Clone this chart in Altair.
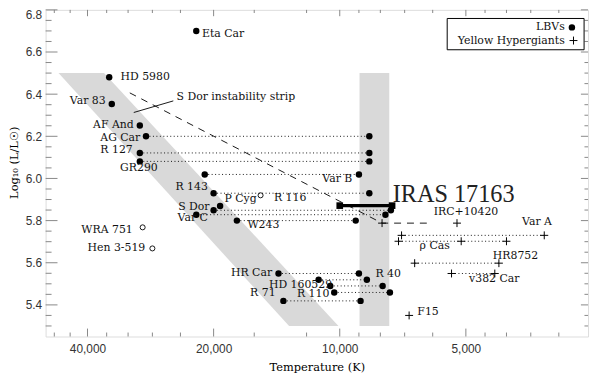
import altair as alt
import pandas as pd

# ---------------- data ----------------
lbv_names = ["Eta Car", "HD 5980", "Var 83", "AF And", "AG Car", "R 127", "GR290",
             "Var B", "R 143", "P Cyg", "S Dor", "Var C", "W243", "HR Car",
             "R 40", "HD 160529", "R 110", "R 71"]
lbv_hot_T = [22000, 35500, 35000, 30000, 29000, 30000, 30000,
             21000, 20000, 19300, 20000, 22000, 17600, 14000,
             11230, 10535, 10307, 13630]
lbv_cool_T = [None, None, None, None, 8500, 8500, 8500,
              9000, 8500, None, 7550, 7780, 9160, 9000,
              8615, 7900, 7590, 8920]
lbv_logL = [6.70, 6.48, 6.353, 6.251, 6.200, 6.121, 6.081,
            6.019, 5.930, 5.869, 5.849, 5.828, 5.800, 5.549,
            5.519, 5.490, 5.459, 5.419]

cand_names = ["R 116", "WRA 751", "Hen 3-519"]
cand_T = [15450, 29540, 28000]
cand_logL = [5.920, 5.768, 5.668]

yhg_names = ["IRC+10420", "Var A", "rho Cas", "HR8752", "v382 Car", "F15"]
yhg_T = [[7925, 5250], [7120, 3250], [7240, 5130, 4000], [6625, 4170], [5410, 4265], [6830]]
yhg_logL = [5.788, 5.730, 5.702, 5.598, 5.549, 5.350]
yhg_dotted = [False, True, True, True, True, False]

iras_T = [10000, 7500]
iras_logL = [5.871, 5.871]

track_T = [31700, 7925, 6040]
track_logL = [6.406, 5.788, 5.788]

strip_logL = [6.5, 5.3]
strip_hot_T = [46900, 13210]
strip_cool_T = [36530, 10070]

band_T = [8970, 7617]
band_logL = [5.3, 6.5]

pointer_T = [31020, 24960]
pointer_logL = [6.313, 6.368]

labL_text = ["Eta Car", "HD 5980", "S Dor instability strip", "P Cyg", "R 116", "W243",
             "HD 160529", "R 110", "R 40", "IRC+10420", "\u03c1 Cas", "HR8752", "v382 Car", "F15"]
labL_T = [21320, 33360, 24520, 18840, 14360, 16610, 14760, 12650, 8220, 5965, 6447, 4311, 4913, 6528]
labL_L = [6.687, 6.480, 6.387, 5.901, 5.906, 5.779, 5.493, 5.450, 5.545, 5.842, 5.680, 5.633, 5.522, 5.366]

labR_text = ["Var 83", "AF And", "AG Car", "R 127", "Var B", "R 143", "S Dor", "Var C",
             "WRA 751", "Hen 3-519", "HR Car", "R 71", "Var A"]
labR_T = [36190, 31020, 29920, 31190, 9333, 20640, 20450, 20640, 31190, 29120, 14500, 14230, 3116]
labR_L = [6.367, 6.255, 6.194, 6.136, 5.995, 5.958, 5.865, 5.810, 5.753, 5.668, 5.552, 5.454, 5.791]

labC_text = ["GR290"]
labC_T = [30150]
labC_L = [6.051]

iras_label = "IRAS 17163"
iras_label_T = 7477
iras_label_L = 5.886

legend_text = ["LBVs", "Yellow Hypergiants"]

x_major = [40000, 20000, 10000, 5000]
x_minor = [48000, 44000, 36000, 32000, 28000, 24000, 16000, 12000,
           9000, 8000, 7000, 6000, 4500, 4000, 3500, 3000]
y_major = [5.4, 5.6, 5.8, 6.0, 6.2, 6.4, 6.6, 6.8]
y_minor = [5.30, 5.35, 5.45, 5.50, 5.55, 5.65, 5.70, 5.75, 5.85, 5.90, 5.95,
           6.05, 6.10, 6.15, 6.25, 6.30, 6.35, 6.45, 6.50, 6.55, 6.65, 6.70, 6.75]

# ---------------- build ----------------
W, H = 548, 330
xs = alt.Scale(type="log", domain=[50350, 2555], nice=False)
ys = alt.Scale(domain=[5.25, 6.8], nice=False, zero=False)
SERIF = "DejaVu Serif"
FS = 11
FRAME = "#888"

XAXIS = alt.Axis(
    values=x_major, format=",", ticks=False, domain=False, grid=False,
    labelFont="Liberation Sans", labelFontSize=12, labelColor="#333", labelPadding=7,
    title="Temperature (K)", titleFont=SERIF, titleFontSize=11.5,
    titleFontWeight="normal", titleColor="black", titlePadding=7)
YAXIS = alt.Axis(
    values=y_major, format=".1f", ticks=False, domain=False, grid=False,
    labelFont="Liberation Sans", labelFontSize=12, labelColor="#333", labelPadding=4,
    labelFlush=True,
    title="Log\u2081\u2080 (L/L\u2609)", titleFont=SERIF, titleFontSize=11.5,
    titleFontWeight="normal", titleColor="black", titleAngle=270,
    titleX=-31, titleY=154, titleAlign="center", titleBaseline="middle")

hot_df = pd.DataFrame({"name": lbv_names, "T": lbv_hot_T, "L": lbv_logL})
cool_df = pd.DataFrame({"name": lbv_names, "T": lbv_cool_T, "L": lbv_logL}).dropna()
pair_df = pd.DataFrame({"T1": lbv_hot_T, "T2": lbv_cool_T, "L": lbv_logL}).dropna()
cand_df = pd.DataFrame({"name": cand_names, "T": cand_T, "L": cand_logL})

yrows, yseg = [], []
for n, ts, l, d in zip(yhg_names, yhg_T, yhg_logL, yhg_dotted):
    for t in ts:
        yrows.append({"name": n, "T": t, "L": l})
    if d:
        yseg.append({"T1": max(ts), "T2": min(ts), "L": l})
yhg_df = pd.DataFrame(yrows)
seg_df = pd.concat([pair_df, pd.DataFrame(yseg)], ignore_index=True)

track_df = pd.DataFrame({"T": track_T, "L": track_logL, "i": list(range(len(track_T)))})
pointer_df = pd.DataFrame({"T": pointer_T, "L": pointer_logL, "i": [0, 1]})
iras_df = pd.DataFrame({"T": iras_T, "L": iras_logL})
strip_df = pd.DataFrame({"L": strip_logL, "T1": strip_hot_T, "T2": strip_cool_T})
band_df = pd.DataFrame({"T1": [band_T[0]], "T2": [band_T[1]], "L1": [band_logL[0]], "L2": [band_logL[1]]})


def X(f):
    return alt.X(f, type="quantitative", scale=xs, axis=XAXIS)


def Y(f):
    return alt.Y(f, type="quantitative", scale=ys, axis=YAXIS)


strip = alt.Chart(strip_df).mark_area(orient="horizontal", color="#d9d9d9", opacity=1).encode(
    y=Y("L"), x=X("T1"), x2="T2")

band = alt.Chart(band_df).mark_rect(color="#d9d9d9", opacity=1).encode(
    x=X("T1"), x2="T2", y=Y("L1"), y2="L2")

dotted = alt.Chart(seg_df).mark_rule(color="black", strokeDash=[1, 2.5], strokeWidth=0.9).encode(
    x=X("T1"), x2="T2", y=Y("L"))

track = alt.Chart(track_df).mark_line(color="black", strokeDash=[7, 6], strokeWidth=0.9).encode(
    x=X("T"), y=Y("L"), order="i:O")

pointer = alt.Chart(pointer_df).mark_line(color="black", strokeWidth=0.9).encode(
    x=X("T"), y=Y("L"), order="i:O")

iras_line = alt.Chart(iras_df).mark_line(color="black", strokeWidth=3.3).encode(x=X("T"), y=Y("L"))
iras_sq = alt.Chart(iras_df).mark_square(color="black", size=45, opacity=1).encode(x=X("T"), y=Y("L"))

hot_pts = alt.Chart(hot_df).mark_circle(color="black", size=42, opacity=1).encode(x=X("T"), y=Y("L"))
cool_pts = alt.Chart(cool_df).mark_circle(color="black", size=42, opacity=1).encode(x=X("T"), y=Y("L"))
cand_pts = alt.Chart(cand_df).mark_point(shape="circle", filled=False, color="black", size=26,
                                        strokeWidth=0.9, opacity=1).encode(x=X("T"), y=Y("L"))
PLUS = "M-1,0L1,0M0,-1L0,1"
yhg_pts = alt.Chart(yhg_df).mark_point(shape=PLUS, filled=False, color="black", size=64,
                                       strokeWidth=1, opacity=1).encode(x=X("T"), y=Y("L"))


def labels(texts, ts, ls, align):
    df = pd.DataFrame({"t": texts, "T": ts, "L": ls})
    return alt.Chart(df).mark_text(align=align, baseline="middle", font=SERIF, fontSize=FS,
                                   color="#111").encode(x=X("T"), y=Y("L"), text="t:N")


labL = labels(labL_text, labL_T, labL_L, "left")
labR = labels(labR_text, labR_T, labR_L, "right")
labC = labels(labC_text, labC_T, labC_L, "center")
iras_txt = alt.Chart(pd.DataFrame({"t": [iras_label], "T": [iras_label_T], "L": [iras_label_L]})).mark_text(
    align="left", baseline="alphabetic", font="Liberation Serif", fontSize=24.5, color="#222").encode(
    x=X("T"), y=Y("L"), text="t:N")


def xticks(vals, ln):
    df = pd.DataFrame({"v": vals})
    b = alt.Chart(df).mark_rule(color=FRAME, strokeWidth=1).encode(
        x=X("v"), y=alt.value(H), y2=alt.value(H - ln))
    t = alt.Chart(df).mark_rule(color=FRAME, strokeWidth=1).encode(
        x=X("v"), y=alt.value(0), y2=alt.value(ln * 0.8))
    return [b, t]


def yticks(vals, ln):
    df = pd.DataFrame({"v": vals})
    l = alt.Chart(df).mark_rule(color=FRAME, strokeWidth=1).encode(
        y=Y("v"), x=alt.value(0), x2=alt.value(ln))
    r = alt.Chart(df).mark_rule(color=FRAME, strokeWidth=1).encode(
        y=Y("v"), x=alt.value(W), x2=alt.value(W - ln * 0.6))
    return [l, r]


tick_layers = xticks(x_major, 8) + xticks(x_minor, 4) + yticks(y_major, 12) + yticks(y_minor, 6)

# legend
dummy = pd.DataFrame({"a": [0]})
leg_box = alt.Chart(dummy).mark_rect(fill="white", stroke="black", strokeWidth=1).encode(
    x=alt.value(405.7), x2=alt.value(544), y=alt.value(8.7), y2=alt.value(40.3))
leg_t1 = alt.Chart(pd.DataFrame({"t": [legend_text[0]]})).mark_text(
    align="right", baseline="middle", font=SERIF, fontSize=FS, color="#111").encode(
    x=alt.value(524.5), y=alt.value(17.7), text="t:N")
leg_t2 = alt.Chart(pd.DataFrame({"t": [legend_text[1]]})).mark_text(
    align="right", baseline="middle", font=SERIF, fontSize=FS, color="#111").encode(
    x=alt.value(524.5), y=alt.value(31), text="t:N")
leg_dot = alt.Chart(dummy).mark_circle(color="black", size=42, opacity=1).encode(
    x=alt.value(531.7), y=alt.value(17.7))
leg_plus = alt.Chart(dummy).mark_point(shape=PLUS, filled=False, color="black",
                                       size=64, strokeWidth=1, opacity=1).encode(
    x=alt.value(533.3), y=alt.value(31))

chart = alt.layer(
    strip, band, dotted, track, pointer, iras_line, iras_sq,
    hot_pts, cool_pts, cand_pts, yhg_pts,
    labL, labR, labC, iras_txt, *tick_layers,
    leg_box, leg_t1, leg_t2, leg_dot, leg_plus,
).properties(
    width=W, height=H, autosize="none",
    padding={"left": 38, "top": 0, "right": 4, "bottom": 36},
).configure_view(stroke=FRAME, strokeWidth=1).configure(background="white")

chart.save("out.html", embed_options={"renderer": "svg", "actions": False})
